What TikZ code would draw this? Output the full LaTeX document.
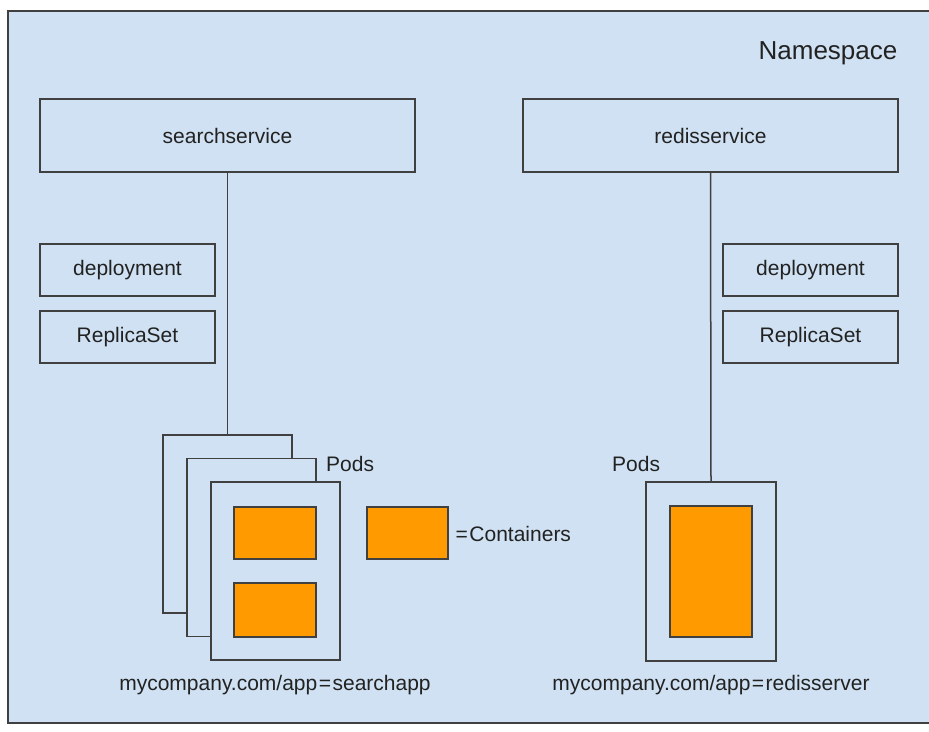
\documentclass[tikz,border=0pt]{standalone}
\usepackage{fontspec}
\setmainfont{Liberation Sans}
\definecolor{nsblue}{HTML}{CFE1F2}
\definecolor{cont}{HTML}{FF9A00}
\definecolor{edge}{HTML}{404040}
\definecolor{txt}{HTML}{222222}
\newcommand{\eqsign}{\kern1.5pt=\kern1.5pt}
\begin{document}
\begin{tikzpicture}[x=1pt,y=-1pt,
  box/.style={draw=edge,line width=1.4pt,fill=nsblue,inner sep=0pt,text=txt,font=\fontsize{21}{24}\selectfont},
  container/.style={draw=edge,line width=1.2pt,fill=cont,inner sep=0pt},
  lbl/.style={text=txt,inner sep=0pt,font=\fontsize{21}{24}\selectfont},
  conn/.style={draw=edge,line width=1.5pt}]
\useasboundingbox (0,0) rectangle (929,731);
\fill[white] (0,0) rectangle (929,731);
\draw[draw=edge,line width=1.4pt,fill=nsblue] (8,11) rectangle (945,723);
\node[lbl,font=\fontsize{26}{30}\selectfont] (nslbl) at (828,53) {Namespace};
% services
\node[box,minimum width=375pt,minimum height=73pt] (ss) at (227.5,135.5) {searchservice};
\node[box,minimum width=375pt,minimum height=73pt] (rs) at (710.5,135.5) {redisservice};
% left deployment/replicaset
\node[box,minimum width=175pt,minimum height=52pt] (dl) at (127.5,270) {deployment};
\node[box,minimum width=175pt,minimum height=52pt] (rl) at (127.5,337) {ReplicaSet};
% right
\node[box,minimum width=175pt,minimum height=52pt] (dr) at (810.5,270) {deployment};
\node[box,minimum width=175pt,minimum height=52pt] (rr) at (810.5,337) {ReplicaSet};
% left pods
\node[box,minimum width=129pt,minimum height=178pt] (p1) at (227.5,524) {};
\node[box,minimum width=129pt,minimum height=178pt] (p2) at (251.5,547.5) {};
\node[box,minimum width=129pt,minimum height=178pt] (p3) at (275.5,571) {};
\node[container,minimum width=82pt,minimum height=52pt] (c1) at (275,533) {};
\node[container,minimum width=82pt,minimum height=54pt] (c2) at (275,610) {};
\node[lbl,anchor=west] (podsl) at (326,464) {Pods};
% legend
\node[container,minimum width=81pt,minimum height=52pt] (cl) at (407.5,533) {};
\node[lbl,anchor=west] (cltxt) at (454,534) {\eqsign Containers};
% right pod
\node[box,minimum width=130pt,minimum height=179pt] (pr) at (711,571.5) {};
\node[container,minimum width=82pt,minimum height=131pt] (cr) at (711,571.5) {};
\node[lbl,anchor=west] (podsr) at (612,464) {Pods};
% labels
\node[lbl] (labl) at (275,685) {mycompany.com/app\eqsign searchapp};
\node[lbl] (labr) at (711,685) {mycompany.com/app\eqsign redisserver};
% connectors
\draw[conn] (ss.south) -- (p1.north);
\draw[conn] (rs.south) -- (pr.north);
\end{tikzpicture}
\end{document}
